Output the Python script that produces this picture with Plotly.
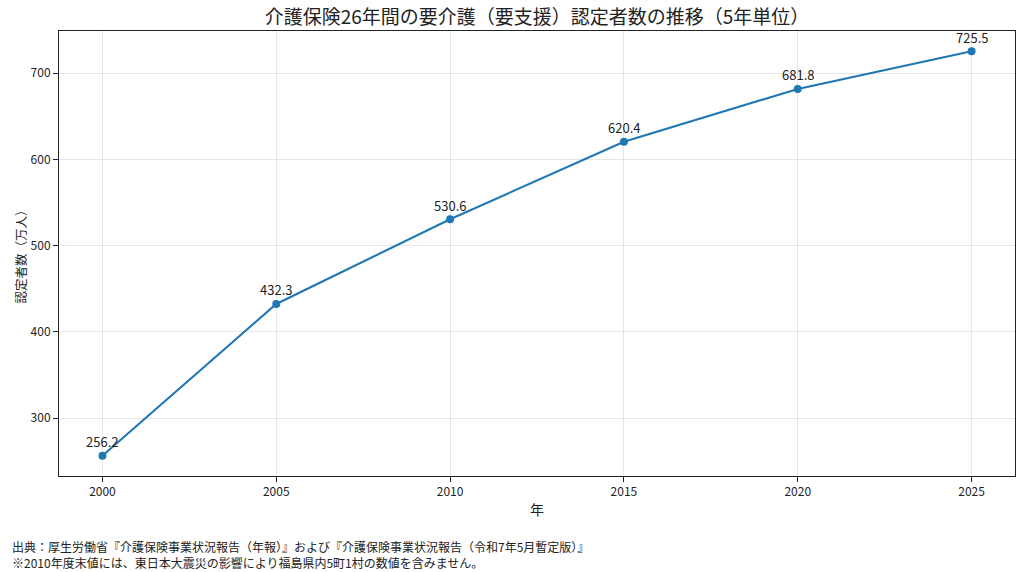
import plotly.graph_objects as go

# 5年単位の認定者数（万人）
years = [2000, 2005, 2010, 2015, 2020, 2025]
recipients = [256.2, 432.3, 530.6, 620.4, 681.8, 725.5]
y_ticks = [300, 400, 500, 600, 700]

TITLE = "介護保険26年間の要介護（要支援）認定者数の推移（5年単位）"
SOURCE = ("出典：厚生労働省『介護保険事業状況報告（年報）』および『介護保険事業状況報告（令和7年5月暫定版）』<br>"
          "※2010年度末値には、東日本大震災の影響により福島県内5町1村の数値を含みません。")

FONT = "Noto Sans CJK JP"
BLUE = "#1f77b4"

fig = go.Figure()
fig.add_trace(
    go.Scatter(
        x=years,
        y=recipients,
        mode="lines+markers",
        line=dict(color=BLUE, width=2.1),
        marker=dict(color=BLUE, size=8),
        showlegend=False,
        hoverinfo="x+y",
    )
)

# 各点の値ラベル
for yr, val in zip(years, recipients):
    fig.add_annotation(
        x=yr, y=val, text=f"{val:.1f}", showarrow=False,
        yshift=14, font=dict(family=FONT, size=13, color="#222"),
    )

span = max(recipients) - min(recipients)
fig.update_xaxes(
    range=[years[0] - 1.25, years[-1] + 1.25],
    tickvals=years,
    ticks="outside", ticklen=5, tickcolor="#222",
    showline=True, linecolor="#222", linewidth=1, mirror=True,
    showgrid=True, gridcolor="rgba(176,176,176,0.3)", gridwidth=1,
    zeroline=False,
    title=dict(text="年", font=dict(family=FONT, size=14, color="#222"), standoff=6),
    tickfont=dict(family=FONT, size=12, color="#222"),
)
fig.update_yaxes(
    range=[min(recipients) - span * 0.05, max(recipients) + span * 0.05],
    tickvals=y_ticks,
    ticks="outside", ticklen=5, tickcolor="#222",
    showline=True, linecolor="#222", linewidth=1, mirror=True,
    showgrid=True, gridcolor="rgba(176,176,176,0.3)", gridwidth=1,
    zeroline=False,
    title=dict(text="認定者数（万人）", font=dict(family=FONT, size=12.5, color="#222"), standoff=1),
    tickfont=dict(family=FONT, size=12, color="#222"),
)

fig.add_annotation(
    xref="paper", yref="paper", x=-0.0513, y=-0.135,
    xanchor="left", yanchor="top", align="left",
    text=SOURCE, showarrow=False,
    font=dict(family=FONT, size=12, color="#222"),
)

fig.update_layout(
    width=1024,
    height=572,
    title=dict(text=TITLE, x=0.5, xref="paper", xanchor="center", y=0.97, yanchor="middle",
               font=dict(family=FONT, size=19, color="#222")),
    plot_bgcolor="white",
    paper_bgcolor="white",
    margin=dict(l=59, r=9, t=31, b=96),
    font=dict(family=FONT, color="#222"),
)

# ページ既定の余白を消して図を左上に合わせる
fig.write_html("out.html", config={"displayModeBar": False},
               post_script="document.body.style.margin='0';")
